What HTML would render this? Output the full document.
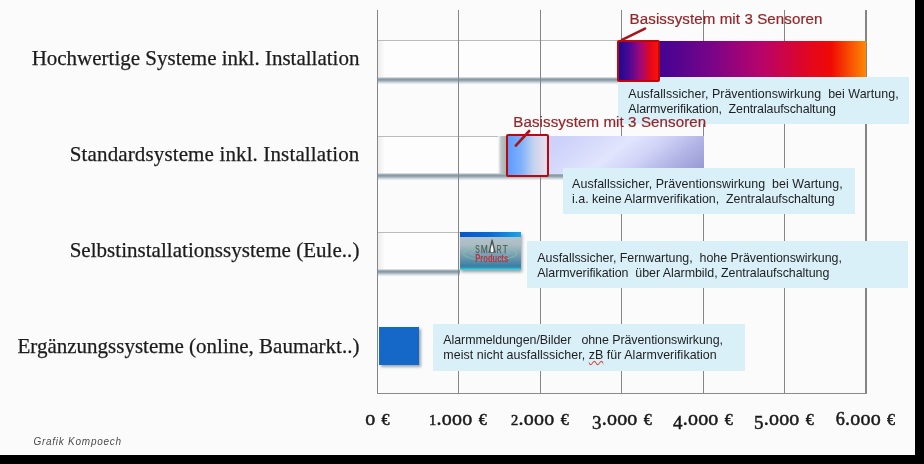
<!DOCTYPE html>
<html lang="de">
<head>
<meta charset="utf-8">
<title>Preisvergleich Alarmsysteme</title>
<style>
  html, body { margin: 0; padding: 0; }
  body {
    width: 924px; height: 464px; overflow: hidden;
    background: #000;
    font-family: "Liberation Sans", sans-serif;
    position: relative;
  }
  #slide {
    position: absolute; left: 0; top: 0;
    width: 915px; height: 455px;
    background: #fbfbfb;
    overflow: hidden;
    filter: blur(0.35px);
  }
  .abs { position: absolute; }

  /* grid */
  .vline { position: absolute; top: 10px; width: 1.2px; height: 384px; background: #858585; }
  .hline { position: absolute; left: 377px; top: 393px; width: 490px; height: 1.4px; background: #8a8a8a; }

  /* hollow "ghost" bars */
  .ghost {
    position: absolute; left: 378px; height: 38px;
    background: linear-gradient(to right, #ececee 0, #fdfdfd 7px, #fdfdfd 100%);
    border-top: 1px solid #b9bcbe;
    box-sizing: border-box;
  }
  .gshadow {
    position: absolute; left: 378px; height: 8px;
    background: linear-gradient(to bottom, rgba(150,168,178,0) 0, #b3c0c8 0.9px, #8799a5 2.2px, #8b9da9 3.2px, #b4c1c9 4.6px, #e0e6e9 6.2px, rgba(240,243,245,0) 7.6px);
  }

  /* category labels */
  .cat {
    position: absolute; right: 555.6px; white-space: nowrap;
    font-family: "Liberation Serif", serif; font-size: 21px; color: #1c1c1c;
    line-height: 24px; letter-spacing: 0; -webkit-text-stroke: 0.25px #1c1c1c;
  }

  /* tooltips */
  .tip {
    position: absolute; background: #d9f0f8; color: #1e1e1e;
    font-size: 12.45px; line-height: 14.15px; white-space: pre; box-sizing: border-box;
  }
  .tip .tx { position: absolute; left: 0; top: 0; transform: scaleY(1.085); transform-origin: 0 0; }
  .tip p { margin: 0; white-space: pre; }

  .red { position: absolute; color: #962428; font-size: 15.1px; line-height: 18px; white-space: nowrap; letter-spacing: .1px; -webkit-text-stroke: .2px #962428; }
  .sq { position: absolute; box-sizing: border-box; border: 2.6px solid #bb080c; border-radius: 2px; }

  .ax {
    position: absolute; top: 404px; width: 90px; margin-left: -45px; text-align: center;
    font-family: "Liberation Serif", serif; font-weight: normal; color: #1a1a1a; -webkit-text-stroke: 0.5px #1a1a1a;
    font-size: 20px; line-height: 28px; white-space: nowrap; letter-spacing: .22px;
  }
  .ax i { font-style: normal; font-size: 14.5px; }          /* x-height digits 1,2 */
  .ax b { font-weight: normal; font-size: 19px; position: relative; top: 4px; } /* descending digits 3,4,5 */
  .ax s { text-decoration: none; font-size: 18.2px; }
  .ax u { text-decoration: none; font-size: 16px; margin-left: 1px; } /* euro */
</style>
</head>
<body>
<div id="slide">

  <!-- ghost bars + shadows -->
  <div class="ghost" style="top:40px; width:240px"></div>
  <div class="gshadow" style="top:77.4px; width:240px"></div>

  <div class="ghost" style="top:136px; width:120px"></div>
  <div class="gshadow" style="top:173.4px; width:186px"></div>

  <div class="ghost" style="top:232px; width:82px"></div>
  <div class="gshadow" style="top:269.4px; width:82px"></div>

  <!-- vertical gridlines -->
  <div class="vline" style="left:376.8px"></div>
  <div class="vline" style="left:458.3px"></div>
  <div class="vline" style="left:539.8px"></div>
  <div class="vline" style="left:621.2px"></div>
  <div class="vline" style="left:702.6px"></div>
  <div class="vline" style="left:784px"></div>
  <div class="vline" style="left:865.4px"></div>
  <div class="hline"></div>

  <!-- bar 1 -->
  <div class="abs" style="left:618px; top:40.7px; width:247.7px; height:37px;
       background:linear-gradient(to right,#1a0a90 0%,#3a0494 14%,#7a0488 38%,#b8046a 58%,#e4061c 78%,#f00a04 86%,#f84a02 93%,#fb8a04 100%);"></div>

  <!-- bar 2 -->
  <div class="abs" style="left:498px; top:136px; width:9px; height:38px;
       background:linear-gradient(to right,rgba(190,200,200,0) 0%,#bcc5c5 35%,#a4b0af 100%);"></div>
  <div class="abs" style="left:507px; top:135.6px; width:197.3px; height:38.4px;
       background:linear-gradient(142deg,#c8cdf8 0%,#ced3fa 27%,#e1e5fd 52%,#d0d3f7 66%,#b4b6e7 80%,#a0a1d9 92%,#9494d0 100%);"></div>

  <!-- bar 3 : SMART Products logo -->
  <div class="abs" style="left:459.5px; top:232px; width:61px; height:38px; overflow:hidden;
       box-shadow: 1px 2px 3px rgba(60,80,90,.55);
       background:linear-gradient(to bottom,#b9c7cf 0%,#a9bcc4 35%,#6f9bb0 65%,#3b7ea4 90%,#2f9dbd 94.5%,#3cc4d2 97.5%,#58ccd6 100%);">
    <div class="abs" style="left:0;top:0;width:61px;height:4.5px;background:linear-gradient(to right,#0a55c6,#0c6ad2 50%,#1da2e2);"></div>
    <svg class="abs" style="left:0;top:0" width="61" height="38" viewBox="0 0 61 38">
      <ellipse cx="30" cy="21.5" rx="26.5" ry="6.8" fill="none" stroke="#86c79a" stroke-opacity=".55" stroke-width="1.3"/>
      <ellipse cx="30" cy="21.5" rx="19" ry="4.2" fill="none" stroke="#9ccfa6" stroke-opacity=".35" stroke-width="1"/>
      <g font-family="Liberation Sans, sans-serif" font-size="11.8" fill="#565a5e" stroke="#565a5e" stroke-width=".25">
        <text x="15.3" y="20.6" textLength="4.4" lengthAdjust="spacingAndGlyphs">S</text>
        <text x="20.8" y="20.6" textLength="7" lengthAdjust="spacingAndGlyphs">M</text>
        <text x="36.6" y="20.6" textLength="5" lengthAdjust="spacingAndGlyphs">R</text>
        <text x="42.8" y="20.6" textLength="4.9" lengthAdjust="spacingAndGlyphs">T</text>
      </g>
      <path d="M28.4 20.7 L31.6 7.4 L32.6 7.4 L35.9 20.7 Z" fill="#4d5256"/>
      <path d="M30.6 19.6 C30.4 17 31.4 14 32.1 11.8 C32.8 14 33.8 17 33.6 19.6 C33 20.5 31.2 20.5 30.6 19.6 Z" fill="#f6f7ec"/>
      <text x="15.3" y="30.3" font-family="Liberation Sans, sans-serif" font-weight="bold" font-size="11.3" fill="#bd3044" textLength="32.8" lengthAdjust="spacingAndGlyphs">Products</text>
    </svg>
  </div>

  <!-- bar 4 -->
  <div class="abs" style="left:378.8px; top:327px; width:39.8px; height:38px; background:#1668c8;
       box-shadow: 1.5px 2px 2.5px rgba(70,85,95,.5);"></div>

  <!-- tooltips -->
  <div class="tip" style="left:618px; top:76.5px; width:291px; height:47px;"><div class="tx" style="left:10.3px; top:9.4px;"><p style="letter-spacing:.04px">Ausfallssicher, Präventionswirkung  bei Wartung,</p><p style="letter-spacing:-.1px">Alarmverifikation,  Zentralaufschaltung</p></div></div>

  <div class="tip" style="left:563px; top:168px; width:291.5px; height:46px;"><div class="tx" style="left:9.1px; top:8.3px;"><p style="letter-spacing:.045px">Ausfallssicher, Präventionswirkung  bei Wartung,</p><p style="letter-spacing:-.03px">i.a. keine Alarmverifikation,  Zentralaufschaltung</p></div></div>

  <div class="tip" style="left:526.8px; top:240.7px; width:381px; height:47.4px;"><div class="tx" style="left:10.5px; top:9.1px;"><p style="letter-spacing:-.03px">Ausfallssicher, Fernwartung,  hohe Präventionswirkung,</p><p style="letter-spacing:-.045px">Alarmverifikation  über Alarmbild, Zentralaufschaltung</p></div></div>

  <div class="tip" style="left:433px; top:324px; width:312px; height:46.7px;"><div class="tx" style="left:10.3px; top:8.3px;"><p style="letter-spacing:-.065px">Alarmmeldungen/Bilder   ohne Präventionswirkung,</p><p style="letter-spacing:.035px">meist nicht ausfallssicher, <em style="font-style:normal;text-decoration:underline wavy #e04848;text-decoration-thickness:.6px;text-underline-offset:1.2px">zB</em> für Alarmverifikation</p></div></div>

  <!-- red squares (above tooltips) -->
  <div class="sq" style="left:617px; top:39.5px; width:42.5px; height:42px;
       background:linear-gradient(to right,#1c0a92 0%,#4a0894 25%,#a00878 55%,#e80818 82%,#f81408 100%);"></div>
  <div class="sq" style="left:506px; top:134.3px; width:42.5px; height:42.7px;
       background:linear-gradient(to right,#5e9bff 0%,#7fb2fb 35%,#c3d2ee 65%,#efdfee 100%);"></div>

  <!-- red labels + leader lines -->
  <div class="red" style="left:629.6px; top:9.7px;">Basissystem mit 3 Sensoren</div>
  <div class="red" style="left:513.3px; top:113.3px;">Basissystem mit 3 Sensoren</div>
  <svg class="abs" style="left:0;top:0;pointer-events:none" width="915" height="455">
    <line x1="645" y1="28.6" x2="622" y2="39.8" stroke="#a81418" stroke-width="2.6" stroke-linecap="round"/>
    <line x1="529.2" y1="131" x2="515.8" y2="145.6" stroke="#a81418" stroke-width="2.6" stroke-linecap="round"/>
  </svg>

  <!-- category labels -->
  <div class="cat" style="top:45.5px;">Hochwertige Systeme inkl. Installation</div>
  <div class="cat" style="top:142.4px; letter-spacing:.13px;">Standardsysteme inkl. Installation</div>
  <div class="cat" style="top:237.8px; letter-spacing:.03px;">Selbstinstallationssysteme (Eule..)</div>
  <div class="cat" style="top:333.5px;">Ergänzungssysteme (online, Baumarkt..)</div>

  <!-- axis labels -->
  <div class="ax" style="left:377.5px">o <u>€</u></div>
  <div class="ax" style="left:458px"><i>1</i>.ooo <u>€</u></div>
  <div class="ax" style="left:540px"><i>2</i>.ooo <u>€</u></div>
  <div class="ax" style="left:622px"><b>3</b>.ooo <u>€</u></div>
  <div class="ax" style="left:703px"><b>4</b>.ooo <u>€</u></div>
  <div class="ax" style="left:784px"><b>5</b>.ooo <u>€</u></div>
  <div class="ax" style="left:865.5px"><s>6</s>.ooo <u>€</u></div>

  <div class="abs" style="left:33.4px; top:435.3px; font-size:10px; line-height:14px; font-style:italic; color:#4c4c4c; letter-spacing:.75px; white-space:nowrap;">Grafik Kompoech</div>
</div>
</body>
</html>
